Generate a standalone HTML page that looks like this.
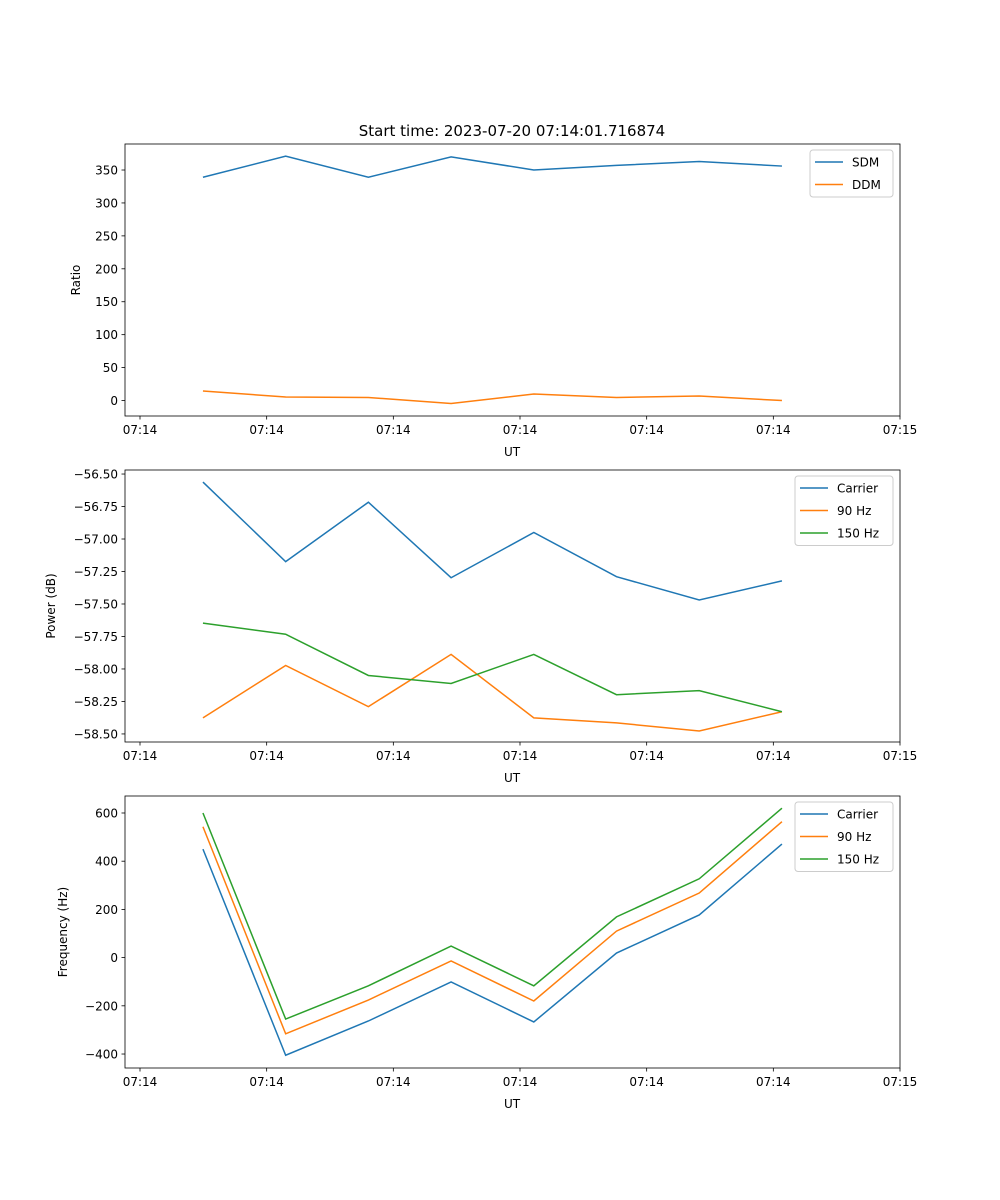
<!DOCTYPE html>
<html><head><meta charset="utf-8"><style>
body{margin:0;background:#fff}
svg{display:block;font-family:"DejaVu Sans","Liberation Sans",sans-serif}
</style></head><body>
<svg id="fig" width="1000" height="1200" xmlns="http://www.w3.org/2000/svg">
<text x="512" y="136" text-anchor="middle" font-size="15">Start time: 2023-07-20 07:14:01.716874</text>
</svg>
<script>
const times=[0.497,1.15,1.803,2.456,3.109,3.762,4.415,5.068];
const xTicks=[0,1,2,3,4,5,6];
const xTickLabels=["07:14","07:14","07:14","07:14","07:14","07:14","07:15"];
const sdm=[339,371,339,370,350,357,363,356];
const ddm=[14.4,5.3,4.6,-4.6,9.9,4.6,6.8,0];
const ratioTicks=[0,50,100,150,200,250,300,350];
const pCarrier=[-56.562,-57.174,-56.717,-57.298,-56.95,-57.29,-57.469,-57.322];
const p90=[-58.376,-57.973,-58.29,-57.888,-58.376,-58.415,-58.477,-58.329];
const p150=[-57.647,-57.733,-58.05,-58.112,-57.888,-58.198,-58.167,-58.329];
const powerTicks=[-58.5,-58.25,-58,-57.75,-57.5,-57.25,-57,-56.75,-56.5];
const fCarrier=[450,-405,-263,-101,-267,19,177,471];
const f90=[543,-316,-176,-14,-180,110,268,564];
const f150=[600,-255,-117,48,-117,169,327,620];
const freqTicks=[-400,-200,0,200,400,600];

const NS="http://www.w3.org/2000/svg";
const svg=document.getElementById('fig');
function mk(tag,attrs,parent){const e=document.createElementNS(NS,tag);for(const k in attrs)e.setAttribute(k,attrs[k]);(parent||svg).appendChild(e);return e;}
const L=125,R=900;
const xs=t=>140+t*(760/6);
const C=['#1f77b4','#ff7f0e','#2ca02c'];
const neg=s=>s.replace('-','\u2212');
function panel(name,top,bot,ymin,ymax,yTicks,fmt,ylabel,series,legend,legW){
  const g=mk('g',{});
  
  
  const ys=v=>bot-(v-ymin)/(ymax-ymin)*(bot-top);
  series.forEach((s,i)=>{
    const p=mk('polyline',{points:s.d.map((v,j)=>xs(times[j])+','+ys(v)).join(' '),fill:'none',stroke:C[i],'stroke-width':1.5},g);
    
    
  });
  const fr=mk('rect',{x:L,y:top,width:R-L,height:bot-top,fill:'none',stroke:'#000','stroke-width':0.8},g);
  
  
  xTicks.forEach((t,i)=>{
    mk('line',{x1:xs(t),x2:xs(t),y1:bot,y2:bot+3.5,stroke:'#000','stroke-width':0.8},g);
    const tx=mk('text',{x:xs(t),y:bot+18,'text-anchor':'middle','font-size':12},g);
    tx.textContent=xTickLabels[i];
    
    
  });
  const xl=mk('text',{x:512,y:bot+40,'text-anchor':'middle','font-size':12},g);
  xl.textContent='UT';
  
  
  yTicks.forEach(v=>{
    mk('line',{x1:L-3.5,x2:L,y1:ys(v),y2:ys(v),stroke:'#000','stroke-width':0.8},g);
    const tx=mk('text',{x:L-7,y:ys(v)+4.5,'text-anchor':'end','font-size':12},g);
    tx.textContent=neg(fmt(v));
    
    
  });
  const cy=(top+bot)/2;
  const yl=mk('text',{x:legend.ylx,y:cy,'text-anchor':'middle','font-size':12,transform:`rotate(-90 ${legend.ylx} ${cy})`},g);
  yl.textContent=ylabel;
  
  
  const lg=mk('g',{},g);
  
  
  const lx=R-7-legW, ly=top+6;
  mk('rect',{x:lx,y:ly,width:legW,height:series.length*22.5+2,fill:'#fff',stroke:'#ccc',rx:3},lg);
  series.forEach((s,i)=>{
    const yy=ly+12+i*22.5;
    mk('line',{x1:lx+5,x2:lx+33,y1:yy,y2:yy,stroke:C[i],'stroke-width':1.5},lg);
    const t=mk('text',{x:lx+42,y:yy+4.5,'font-size':12},lg);
    t.textContent=s.n;
    
    
  });
}
panel('ratio',144,416,-23.5,389.5,ratioTicks,v=>String(v),'Ratio',[{n:'SDM',d:sdm},{n:'DDM',d:ddm}],{ylx:80},83);
panel('power',470,742,-58.562,-56.469,powerTicks,v=>v.toFixed(2),'Power (dB)',[{n:'Carrier',d:pCarrier},{n:'90 Hz',d:p90},{n:'150 Hz',d:p150}],{ylx:55},98);
panel('frequency',796,1068,-458,670.5,freqTicks,v=>String(v),'Frequency (Hz)',[{n:'Carrier',d:fCarrier},{n:'90 Hz',d:f90},{n:'150 Hz',d:f150}],{ylx:67},98);
</script>
</body></html>
